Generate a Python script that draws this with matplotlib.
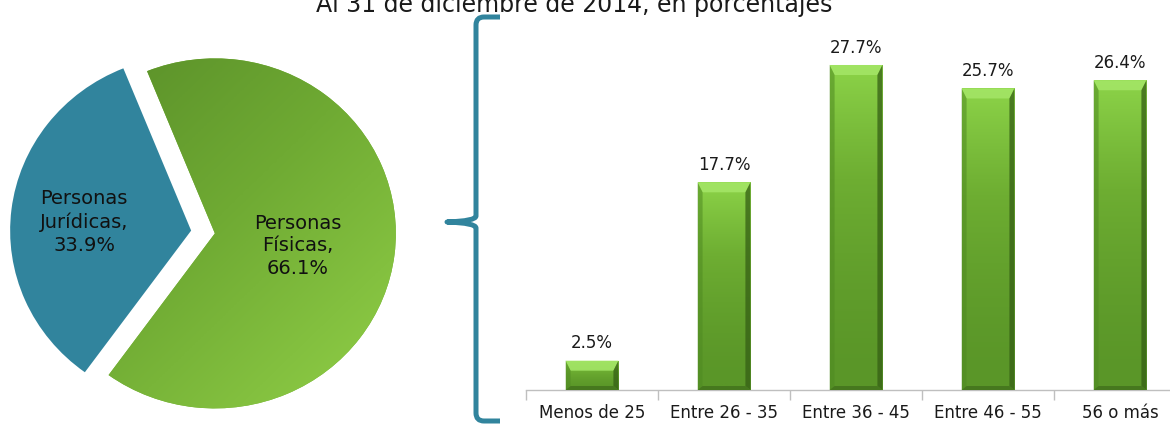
import matplotlib
matplotlib.use("Agg")
import matplotlib.pyplot as plt
import numpy as np
from matplotlib.path import Path
from matplotlib.patches import PathPatch, Polygon
from matplotlib.colors import LinearSegmentedColormap

# ---------------- data ----------------
title = "Al 31 de diciembre de 2014, en porcentajes"
pie_names = ["Personas\nJurídicas,", "Personas\nFísicas,"]
pie_values = [33.9, 66.1]
categories = ["Menos de 25", "Entre 26 - 35", "Entre 36 - 45", "Entre 46 - 55", "56 o más"]
values = [2.5, 17.7, 27.7, 25.7, 26.4]

W, H = 1170, 424
fig = plt.figure(figsize=(W / 100, H / 100), dpi=100)
plt.rcParams["font.family"] = ["DejaVu Sans"]


def px_axes(x0, y0, x1, y1):
    return fig.add_axes([x0 / W, 1 - y1 / H, (x1 - x0) / W, (y1 - y0) / H])


# ---------------- title ----------------
fig.text(574 / W, 1 - 12 / H, title, ha="center", va="baseline",
         fontsize=17, color="#1a1a1a")

# ---------------- pie ----------------
BLUE = "#31849D"
axp = px_axes(0, 0, 430, 424)
RX, RY = 181.0, 175.0
cx, cy = 203.0, 232.0
wedges, _ = axp.pie(pie_values, startangle=112, counterclock=True,
                    explode=[0.066, 0.066], radius=1,
                    colors=[BLUE, "#74B236"],
                    wedgeprops=dict(linewidth=0))
gx, gy = np.meshgrid(np.linspace(-1.3, 1.3, 300), np.linspace(1.3, -1.3, 300))
grad = (gx - gy)
cmap_g = LinearSegmentedColormap.from_list("g", ["#578C28", "#6FAA33", "#8DCB45"])
im = axp.imshow(grad, extent=[-1.3, 1.3, -1.3, 1.3], cmap=cmap_g,
                vmin=-1.8, vmax=1.8, zorder=2, interpolation="bilinear")
im.set_clip_path(wedges[1])
axp.set_aspect("auto")
axp.set_xlim(-cx / RX, (430 - cx) / RX)
axp.set_ylim(-(H - cy) / RY, cy / RY)
axp.axis("off")

lbl_pos = [(84, 222), (298, 246)]
for name, val, (px, py) in zip(pie_names, pie_values, lbl_pos):
    axp.text((px - cx) / RX, (cy - py) / RY, f"{name}\n{val:.1f}%",
             ha="center", va="center", fontsize=14, color="#111111",
             linespacing=1.25, zorder=5)

# ---------------- brace ----------------
def fp(x, y):
    return (x / W, 1 - y / H)

bx, tipx, tipy = 476, 447, 222
top, bot, endx = 17, 421, 500
verts = [fp(endx, top), fp(bx + 8, top), fp(bx, top), fp(bx, top + 8),
         fp(bx, tipy - 6), fp(bx, tipy - 1), fp(tipx, tipy),
         fp(bx, tipy + 1), fp(bx, tipy + 6),
         fp(bx, bot - 8), fp(bx, bot), fp(bx + 8, bot), fp(endx, bot)]
codes = [Path.MOVETO, Path.LINETO, Path.CURVE3, Path.CURVE3,
         Path.LINETO, Path.CURVE3, Path.CURVE3,
         Path.CURVE3, Path.CURVE3,
         Path.LINETO, Path.CURVE3, Path.CURVE3, Path.LINETO]
brace = PathPatch(Path(verts, codes), transform=fig.transFigure,
                  facecolor="none", edgecolor=BLUE, linewidth=3.6,
                  capstyle="butt", joinstyle="round")
fig.add_artist(brace)

# ---------------- bars ----------------
axb = px_axes(526, 38, 1186, 390)
x = np.arange(len(categories))
bars = axb.bar(x, values, width=0.4, color="#6BAA2E", linewidth=0, zorder=2)
axb.set_xlim(-0.5, len(categories) - 0.5)
axb.set_ylim(0, 30)

cmap_b = LinearSegmentedColormap.from_list("b", ["#5A9628", "#6EAE32", "#8CD348"])
pxx = 1 / 132.0       # data units per pixel in x
pxy = 30 / 352.0      # data units per pixel in y
for b, v in zip(bars, values):
    x0, w, h = b.get_x(), b.get_width(), b.get_height()
    x1 = x0 + w
    g = np.linspace(0, 1, 100).reshape(-1, 1) ** 1.6
    imb = axb.imshow(g, extent=[x0, x1, 0, h], origin="lower", cmap=cmap_b,
                     aspect="auto", zorder=3, interpolation="bilinear")
    imb.set_clip_path(b)
    sx, ty, byy = 5 * pxx, 10 * pxy, 4 * pxy
    tb = min(ty, h * 0.35)
    axb.add_patch(Polygon([(x0, h), (x1, h), (x1 - sx, h - tb), (x0 + sx, h - tb)],
                          closed=True, facecolor="#A3E566", edgecolor="none",
                          alpha=0.9, zorder=4))
    axb.add_patch(Polygon([(x0, h), (x0 + sx, h - tb), (x0 + sx, byy), (x0, 0)],
                          closed=True, facecolor="#4F8A22", edgecolor="none",
                          alpha=0.55, zorder=4))
    axb.add_patch(Polygon([(x1, h), (x1 - sx, h - tb), (x1 - sx, byy), (x1, 0)],
                          closed=True, facecolor="#355F15", edgecolor="none",
                          alpha=0.75, zorder=4))
    axb.add_patch(Polygon([(x0, 0), (x1, 0), (x1 - sx, byy), (x0 + sx, byy)],
                          closed=True, facecolor="#3E6C1A", edgecolor="none",
                          alpha=0.7, zorder=4))
    axb.annotate(f"{v:.1f}%", (b.get_x() + w / 2, h), xytext=(0, 6),
                 textcoords="offset points", ha="center", va="bottom",
                 fontsize=12, color="#1a1a1a")

for s in ["top", "right", "left"]:
    axb.spines[s].set_visible(False)
axb.spines["bottom"].set_color("#BFBFBF")
axb.spines["bottom"].set_linewidth(1.0)
axb.set_yticks([])
axb.set_xticks(x)
axb.set_xticklabels(categories, fontsize=12, color="#1a1a1a")
axb.tick_params(axis="x", which="major", length=0, pad=10)
axb.set_xticks(np.arange(-0.5, len(categories), 1.0), minor=True)
axb.tick_params(axis="x", which="minor", length=7, color="#BFBFBF", width=1.0)

fig.savefig("out.png", dpi=100)
